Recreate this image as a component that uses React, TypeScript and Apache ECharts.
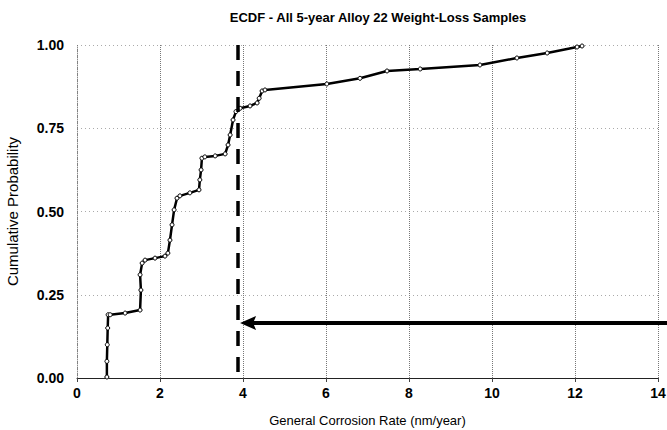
import React, { useEffect, useRef } from "react";
import * as echarts from "echarts";

const titleText = "ECDF - All 5-year Alloy 22 Weight-Loss Samples";
const xAxisName = "General Corrosion Rate (nm/year)";
const yAxisName = "Cumulative Probability";

const xMin = 0;
const xMax = 14;
const xStep = 2;
const yMin = 0;
const yMax = 1;
const yStep = 0.25;

// ECDF curve
const rateNmYr = [
  0.72, 0.72, 0.73, 0.74, 0.75, 0.8, 1.16, 1.52, 1.54, 1.52, 1.57, 1.64, 1.88, 2.12,
  2.19, 2.24, 2.29, 2.34, 2.41, 2.48, 2.72, 2.94, 2.96, 2.99, 3.01, 3.08, 3.33, 3.57,
  3.64, 3.69, 3.76, 3.83, 3.93, 4.17, 4.34, 4.39, 4.46, 4.53, 6.02, 6.82, 7.47, 8.27,
  9.71, 10.6, 11.33, 12.05, 12.17,
];
const cumProb = [
  0.003, 0.05, 0.1, 0.15, 0.19, 0.19, 0.195, 0.204, 0.264, 0.31, 0.345, 0.354, 0.36, 0.366,
  0.375, 0.414, 0.46, 0.505, 0.54, 0.547, 0.556, 0.565, 0.595, 0.625, 0.66, 0.664, 0.667, 0.673,
  0.7, 0.73, 0.775, 0.8, 0.81, 0.817, 0.826, 0.84, 0.862, 0.865, 0.883, 0.9, 0.922, 0.928,
  0.94, 0.961, 0.976, 0.994, 0.997,
];

// annotations
const cutoffRate = 3.87;
const arrowProb = 0.165;
const arrowTipRate = 3.93;

export default function App() {
  const ref = useRef<HTMLDivElement>(null);

  useEffect(() => {
    if (!ref.current) return;
    const chart = echarts.init(ref.current, null, { renderer: "svg" });
    const data = rateNmYr.map((x, i) => [x, cumProb[i]]);
    const font = "'Liberation Sans', Arial, sans-serif";
    chart.setOption({
      animation: false,
      backgroundColor: "#fff",
      title: {
        text: titleText,
        left: 373,
        top: 6,
        textAlign: "center",
        textStyle: { fontFamily: font, fontSize: 13, fontWeight: "bold", color: "#000" },
      },
      grid: { left: 77, right: 9, top: 45, bottom: 52, containLabel: false, outerBoundsMode: "none" },
      xAxis: {
        type: "value",
        min: xMin,
        max: xMax,
        interval: xStep,
        name: xAxisName,
        nameLocation: "middle",
        nameGap: 36,
        nameTextStyle: { fontFamily: font, fontSize: 13, color: "#000" },
        axisLine: { lineStyle: { color: "#222", width: 1 } },
        axisTick: { show: true, length: 4, lineStyle: { color: "#444" } },
        axisLabel: {
          margin: 8,
          fontFamily: font,
          fontSize: 14,
          fontWeight: "bold",
          color: "#000",
        },
        splitLine: { show: true, lineStyle: { color: "#777", type: [1, 1], width: 1 } },
      },
      yAxis: {
        type: "value",
        min: yMin,
        max: yMax,
        interval: yStep,
        name: yAxisName,
        nameLocation: "middle",
        nameGap: 57,
        nameRotate: 90,
        nameTextStyle: { fontFamily: font, fontSize: 15, color: "#000" },
        axisLine: { show: true, lineStyle: { color: "#888", type: [1, 2], width: 1 } },
        axisTick: { show: false },
        axisLabel: {
          margin: 13,
          fontFamily: font,
          fontSize: 14,
          fontWeight: "bold",
          color: "#000",
          formatter: (v: number) => v.toFixed(2),
        },
        splitLine: { show: true, lineStyle: { color: "#aaa", type: [1, 3], width: 1 } },
      },
      series: [
        {
          type: "line",
          data,
          symbol: "circle",
          symbolSize: 4,
          showAllSymbol: true,
          lineStyle: { color: "#000", width: 2.5 },
          itemStyle: { color: "#fff", borderColor: "#000", borderWidth: 1 },
          z: 3,
        },
        {
          type: "line",
          data: [],
          clip: false,
          markLine: {
            silent: true,
            symbol: ["none", "none"],
            label: { show: false },
            lineStyle: { color: "#000", width: 3.5, type: [15, 11] },
            data: [[{ coord: [cutoffRate, yMax] }, { coord: [cutoffRate, yMin] }]],
          },
          z: 4,
        },
      ],
    });

    // arrow: tip placed through the chart's own scales, tail runs to the page edge
    const tip = chart.convertToPixel({ gridIndex: 0 }, [arrowTipRate, arrowProb]) as number[];
    if (tip) {
      const [tx, ty] = tip;
      const w = chart.getWidth();
      chart.setOption({
        graphic: [
          {
            type: "line",
            shape: { x1: w, y1: ty, x2: tx + 12, y2: ty },
            style: { stroke: "#000", lineWidth: 4 },
            z: 10,
          },
          {
            type: "polygon",
            shape: { points: [[tx, ty], [tx + 16, ty - 7], [tx + 13, ty], [tx + 16, ty + 7]] },
            style: { fill: "#000" },
            z: 10,
          },
        ],
      });
    }
    return () => chart.dispose();
  }, []);

  return (
    <div
      ref={ref}
      style={{ position: "fixed", left: 0, top: 0, width: 667, height: 430, background: "#fff" }}
    />
  );
}
